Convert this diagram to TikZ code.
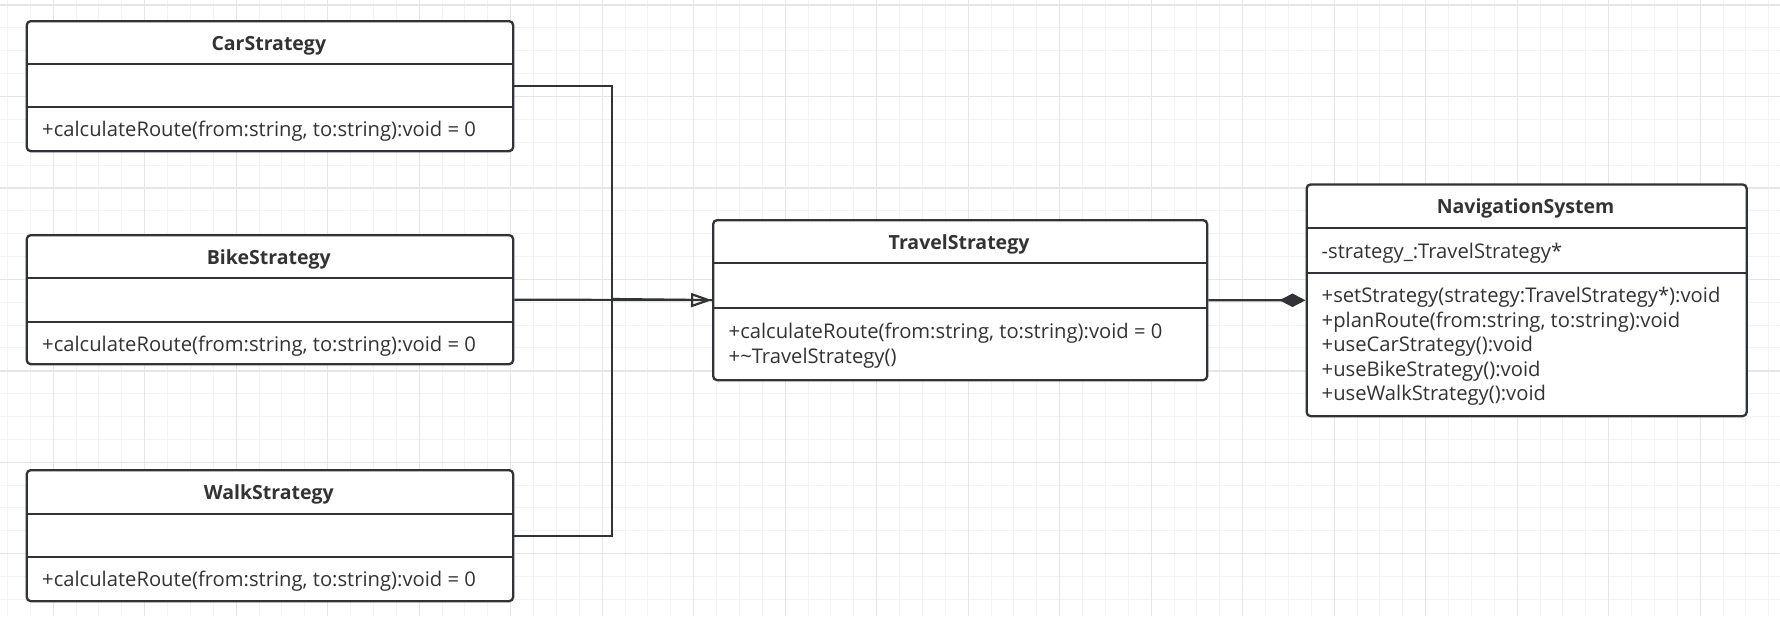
\documentclass[tikz,border=0pt]{standalone}
\usepackage{fontspec}
\setmainfont{Open Sans}
\usetikzlibrary{arrows.meta}
\definecolor{ink}{HTML}{303337}
\definecolor{txt}{HTML}{333333}
\definecolor{gminor}{HTML}{F3F3F3}
\definecolor{gmajor}{HTML}{E6E6E6}
\tikzset{
  cls/.style={draw=ink, line width=2.3pt, fill=white, rounded corners=4pt, inner sep=0pt, anchor=north west},
  sepline/.style={draw=ink, line width=2.3pt},
  title/.style={inner sep=0pt, text=txt, anchor=base, font=\fontsize{19.5}{24}\selectfont\bfseries},
  member/.style={inner sep=0pt, text=txt, anchor=base west, font=\fontsize{20.2}{24.6}\selectfont},
  conn/.style={draw=ink, line width=2.2pt},
}
\begin{document}
\begin{tikzpicture}[x=1pt, y=-1pt]
\useasboundingbox (0,0) rectangle (1780,616);
\fill[white] (0,0) rectangle (1780,616);
% grid
\foreach \i in {0,...,77} {
  \draw[gminor, line width=1pt] ({7.45+22.875*\i},0) -- ({7.45+22.875*\i},616);
}
\foreach \i in {0,...,27} {
  \draw[gminor, line width=1pt] (0,{5+22.86*\i}) -- (1780,{5+22.86*\i});
}
\foreach \i in {0,...,19} {
  \draw[gmajor, line width=1.4pt] ({53.2+91.5*\i},0) -- ({53.2+91.5*\i},616);
}
\foreach \i in {0,...,6} {
  \draw[gmajor, line width=1.4pt] (0,{5+91.45*\i}) -- (1780,{5+91.45*\i});
}

% CarStrategy
\node[cls, minimum width=486.4pt, minimum height=130pt] (car) at (25.6,20) {};
\draw[sepline] (25.6,64) -- (512,64);
\draw[sepline] (25.6,107) -- (512,107);
\node[title] (carT) at (268.8,50.5) {CarStrategy};
\node[member] (carM) at (42,136.7) {+calculateRoute(from:string, to:string):void = 0};

% BikeStrategy
\node[cls, minimum width=486.4pt, minimum height=129pt] (bike) at (25.6,234) {};
\draw[sepline] (25.6,278) -- (512,278);
\draw[sepline] (25.6,321.7) -- (512,321.7);
\node[title] (bikeT) at (268.8,264.5) {BikeStrategy};
\node[member] (bikeM) at (42,351.4) {+calculateRoute(from:string, to:string):void = 0};

% WalkStrategy
\node[cls, minimum width=486.4pt, minimum height=131pt] (walk) at (25.6,469) {};
\draw[sepline] (25.6,513.7) -- (512,513.7);
\draw[sepline] (25.6,556.7) -- (512,556.7);
\node[title] (walkT) at (268.8,499.5) {WalkStrategy};
\node[member] (walkM) at (42,586.4) {+calculateRoute(from:string, to:string):void = 0};

% TravelStrategy
\node[cls, minimum width=494pt, minimum height=160pt] (travel) at (712,219) {};
\draw[sepline] (712,263.3) -- (1206,263.3);
\draw[sepline] (712,308.3) -- (1206,308.3);
\node[title] (travelT) at (959,249.8) {TravelStrategy};
\node[member] (travelM1) at (728.5,338.3) {+calculateRoute(from:string, to:string):void = 0};
\node[member] (travelM2) at (728.5,363.3) {+\textasciitilde TravelStrategy()};

% NavigationSystem
\node[cls, minimum width=440pt, minimum height=231.7pt] (nav) at (1305.5,183.3) {};
\draw[sepline] (1305.5,227.7) -- (1745.5,227.7);
\draw[sepline] (1305.5,272.7) -- (1745.5,272.7);
\node[title] (navT) at (1525.5,213.8) {NavigationSystem};
\node[member] (navA) at (1321.5,258.3) {-strategy\_:TravelStrategy*};
\node[member] (navM1) at (1321.5,302.7) {+setStrategy(strategy:TravelStrategy*):void};
\node[member] (navM2) at (1321.5,327.2) {+planRoute(from:string, to:string):void};
\node[member] (navM3) at (1321.5,351.8) {+useCarStrategy():void};
\node[member] (navM4) at (1321.5,376.3) {+useBikeStrategy():void};
\node[member] (navM5) at (1321.5,400.9) {+useWalkStrategy():void};

% connectors
\coordinate (junc) at (612,299);
\draw[conn] (car.east) -| (junc);
\draw[conn] (walk.east) -| (junc);
\draw[conn] (junc) -- (travel.west);
\draw[conn, -{Triangle[open, length=21pt, width=14pt, line width=2.2pt]}] (bike.east) -- (travel.west);
\draw[conn, {Diamond[length=26pt, width=13.5pt, fill=ink]}-] (nav.west) -- (travel.east);
\end{tikzpicture}
\end{document}
